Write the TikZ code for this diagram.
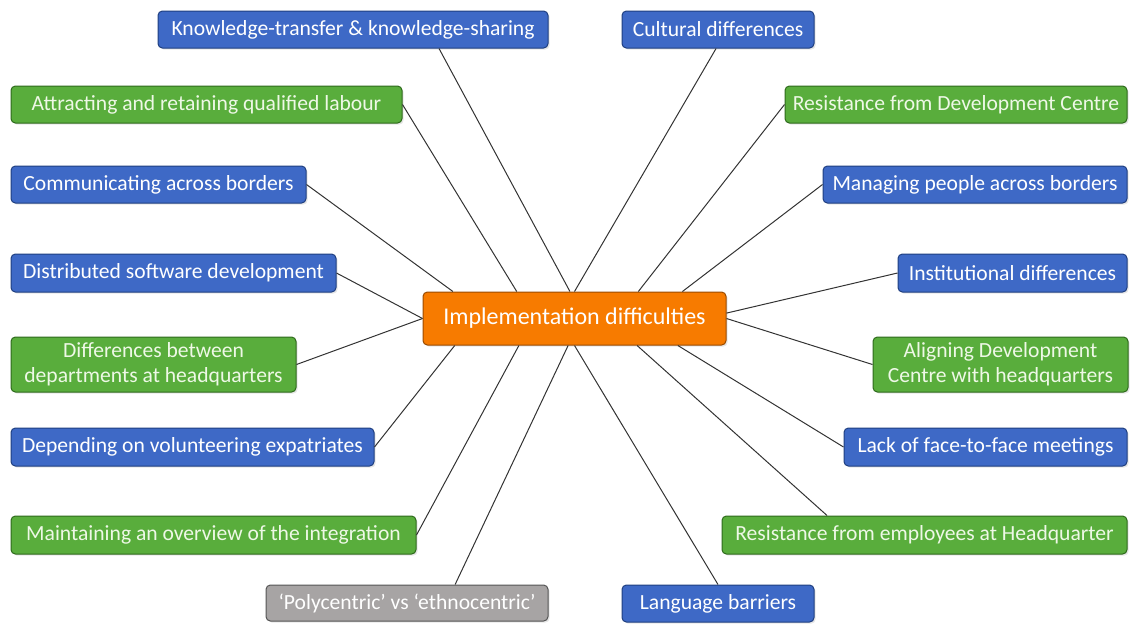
\documentclass[tikz,border=0pt]{standalone}
\usepackage{fontspec}
\setmainfont{Carlito}
\usetikzlibrary{calc,shadows}
\definecolor{bluefill}{HTML}{3E69C6}
\definecolor{blueline}{HTML}{1F3F80}
\definecolor{greenfill}{HTML}{59AD3C}
\definecolor{greenline}{HTML}{2E6A1C}
\definecolor{greentext}{HTML}{EEF8E6}
\definecolor{orangefill}{HTML}{F77B00}
\definecolor{orangeline}{HTML}{9A4B00}
\definecolor{greyfill}{HTML}{A7A4A4}
\definecolor{greyline}{HTML}{555555}
\definecolor{linkcol}{HTML}{333333}
\tikzset{
  box/.style={rounded corners=2.2pt, line width=0.5pt, inner sep=2pt,
    font=\fontsize{10.8}{12.3}\selectfont, align=center,
    drop shadow={opacity=0.2, shadow xshift=0.8pt, shadow yshift=-0.8pt}},
  bluebox/.style={box, fill=bluefill, draw=blueline, text=white},
  greenbox/.style={box, fill=greenfill, draw=greenline, text=greentext},
  greybox/.style={box, fill=greyfill, draw=greyline, text=white},
  hub/.style={box, fill=orangefill, draw=orangeline, text=white,
    font=\fontsize{12}{14}\selectfont},
  link/.style={draw=linkcol, line width=0.5pt}
}
\begin{document}
\begin{tikzpicture}[x=0.5pt, y=-0.5pt]
\useasboundingbox (0,0) rectangle (1130,623);

% central topic
\node[hub, minimum width=151.5pt, minimum height=26.5pt] (c) at (574.5,318.5) {Implementation difficulties};

% surrounding topics
\node[bluebox, minimum width=195pt, minimum height=18.5pt] (kt) at (353,29.5) {Knowledge-transfer \& knowledge-sharing};
\node[bluebox, minimum width=96pt, minimum height=18.5pt] (cd) at (718,29.5) {Cultural differences};
\node[greenbox, minimum width=195.5pt, minimum height=18.5pt] (at) at (206.5,104.5) {Attracting and retaining qualified labour};
\node[greenbox, minimum width=171pt, minimum height=18.5pt] (rdc) at (956,104.5) {Resistance from Development Centre};
\node[bluebox, minimum width=147.5pt, minimum height=18.5pt] (cab) at (158.5,184.5) {Communicating across borders};
\node[bluebox, minimum width=152pt, minimum height=18.5pt] (mp) at (975,184.5) {Managing people across borders};
\node[bluebox, minimum width=162.5pt, minimum height=19pt] (dsd) at (173.5,273) {Distributed software development};
\node[bluebox, minimum width=114.5pt, minimum height=19pt] (inst) at (1012.5,273) {Institutional differences};
\node[greenbox, minimum width=142.5pt, minimum height=27.5pt] (dbd) at (153.5,364.5) {Differences between\\departments at headquarters};
\node[greenbox, minimum width=127.5pt, minimum height=27.5pt] (adc) at (1000.5,364.5) {Aligning Development\\Centre with headquarters};
\node[bluebox, minimum width=181.5pt, minimum height=19pt] (dve) at (192.5,447) {Depending on volunteering expatriates};
\node[bluebox, minimum width=141.5pt, minimum height=19pt] (lf) at (985.5,447) {Lack of face-to-face meetings};
\node[greenbox, minimum width=202.5pt, minimum height=19pt] (mo) at (213.5,535) {Maintaining an overview of the integration};
\node[greenbox, minimum width=202.5pt, minimum height=19pt] (re) at (924.5,535) {Resistance from employees at Headquarter};
\node[greybox, minimum width=141pt, minimum height=18pt] (poly) at (407,603) {‘Polycentric’ vs ‘ethnocentric’};
\node[bluebox, minimum width=96pt, minimum height=18.5pt] (lb) at (718,603.5) {Language barriers};

% connectors from the central topic
\draw[link] ($(c.north west)!0.485!(c.north east)$) -- ($(kt.south west)!0.72!(kt.south east)$);
\draw[link] ($(c.north west)!0.50!(c.north east)$) -- ($(cd.south west)!0.49!(cd.south east)$);
\draw[link] ($(c.north west)!0.31!(c.north east)$) -- (at.east);
\draw[link] ($(c.north west)!0.71!(c.north east)$) -- (rdc.west);
\draw[link] ($(c.north west)!0.10!(c.north east)$) -- (cab.east);
\draw[link] ($(c.north west)!0.855!(c.north east)$) -- (mp.west);
\draw[link] (c.west) -- (dsd.east);
\draw[link] ($(c.north east)!0.40!(c.south east)$) -- (inst.west);
\draw[link] (c.west) -- (dbd.east);
\draw[link] (c.east) -- (adc.west);
\draw[link] ($(c.south west)!0.106!(c.south east)$) -- (dve.east);
\draw[link] ($(c.south west)!0.84!(c.south east)$) -- (lf.west);
\draw[link] ($(c.south west)!0.317!(c.south east)$) -- (mo.east);
\draw[link] ($(c.south west)!0.706!(c.south east)$) -- ($(re.north west)!0.26!(re.north east)$);
\draw[link] ($(c.south west)!0.479!(c.south east)$) -- ($(poly.north west)!0.67!(poly.north east)$);
\draw[link] ($(c.south west)!0.50!(c.south east)$) -- (lb.north);
\end{tikzpicture}
\end{document}
